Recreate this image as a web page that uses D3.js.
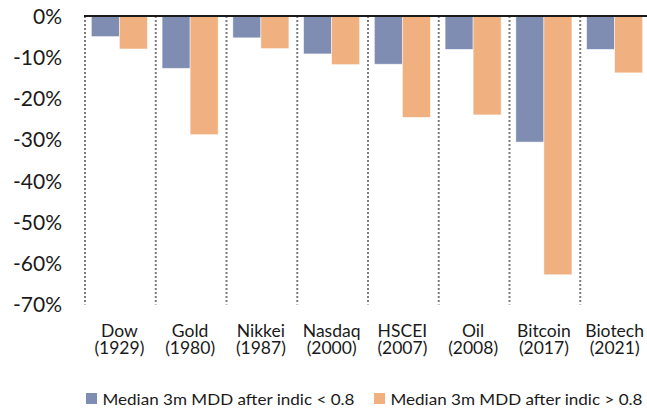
<!DOCTYPE html>
<html>
<head>
<meta charset="utf-8">
<script src="https://cdn.jsdelivr.net/npm/d3@7/dist/d3.min.js"></script>
<style>
  html, body { margin: 0; padding: 0; background: #fff; }
  svg { display: block; font-family: Lato, "Open Sans", sans-serif; }
</style>
</head>
<body>
<svg id="chart" width="647" height="410"></svg>
<script>
// Episodes (name, year) and median 3-month max drawdowns, in percent
const categories = ["Dow", "Gold", "Nikkei", "Nasdaq", "HSCEI", "Oil", "Bitcoin", "Biotech"];
const years = ["(1929)", "(1980)", "(1987)", "(2000)", "(2007)", "(2008)", "(2017)", "(2021)"];
const seriesNames = ["Median 3m MDD after indic < 0.8", "Median 3m MDD after indic > 0.8"];
const belowValues = [-5.0, -12.7, -5.3, -9.2, -11.7, -8.1, -30.6, -8.1];
const aboveValues = [-8.0, -28.8, -7.9, -11.8, -24.6, -24.0, -62.8, -13.8];
const tickValues = [0, -10, -20, -30, -40, -50, -60, -70];
const colors = ["#7F8DB2", "#F0B07F"];

const svg = d3.select("#chart");

const plotLeft = 84, plotRight = 650, plotTop = 16, plotBottom = 304.4;

const x0 = d3.scaleBand().domain(categories).range([plotLeft, plotRight]).padding(0);
const x1 = d3.scaleBand().domain(seriesNames).range([0, x0.bandwidth()])
  .paddingInner(0).paddingOuter(0.2625);
const y = d3.scaleLinear().domain([0, -70]).range([plotTop, plotBottom]);

const rows = categories.map((c, i) => ({
  cat: c,
  values: [
    { key: seriesNames[0], v: belowValues[i], color: colors[0] },
    { key: seriesNames[1], v: aboveValues[i], color: colors[1] }
  ]
}));

// Dotted separators at the left edge of each category
svg.append("g")
  .selectAll("line")
  .data(categories)
  .join("line")
  .attr("x1", d => x0(d) + 1)
  .attr("x2", d => x0(d) + 1)
  .attr("y1", y(0))
  .attr("y2", y(-70))
  .attr("stroke", "#7d7d7d")
  .attr("stroke-width", 2)
  .attr("stroke-dasharray", "2,2");

// Bars
svg.append("g")
  .selectAll("g")
  .data(rows)
  .join("g")
  .attr("transform", d => `translate(${x0(d.cat)},0)`)
  .selectAll("rect")
  .data(d => d.values)
  .join("rect")
  .attr("x", d => x1(d.key))
  .attr("width", x1.bandwidth())
  .attr("y", y(0))
  .attr("height", d => y(d.v) - y(0))
  .attr("fill", d => d.color)
  .attr("stroke", "rgba(255,255,255,0.6)")
  .attr("stroke-width", 0.8);

// Zero line
svg.append("line")
  .attr("x1", plotLeft).attr("x2", 647)
  .attr("y1", y(0)).attr("y2", y(0))
  .attr("stroke", "#1a1a1a")
  .attr("stroke-width", 2);

// Y axis tick labels
const yAxis = d3.axisLeft(y)
  .tickValues(tickValues)
  .tickSize(0)
  .tickPadding(0)
  .tickFormat(d => d + "%");
const gy = svg.append("g")
  .attr("transform", "translate(62,0)")
  .call(yAxis);
gy.select(".domain").remove();
gy.selectAll("text")
  .attr("font-family", "Lato, sans-serif")
  .attr("font-size", 21)
  .attr("fill", "#1a1a1a")
  .attr("dy", "0.35em");

// Category labels (two lines)
const labels = svg.append("g")
  .selectAll("text")
  .data(categories)
  .join("text")
  .attr("x", d => x0(d) + x0.bandwidth() / 2)
  .attr("y", 336.5)
  .attr("text-anchor", "middle")
  .attr("font-size", 17.5)
  .attr("fill", "#1a1a1a");
labels.append("tspan").text(d => d);
labels.append("tspan")
  .attr("x", d => x0(d) + x0.bandwidth() / 2)
  .attr("dy", 17.8)
  .text((d, i) => years[i]);

// Legend
const legendItems = [
  { name: seriesNames[0], color: colors[0], x: 86 },
  { name: seriesNames[1], color: colors[1], x: 374 }
];
const lg = svg.append("g")
  .selectAll("g")
  .data(legendItems)
  .join("g")
  .attr("transform", d => `translate(${d.x},0)`);
lg.append("rect")
  .attr("x", 0).attr("y", 393)
  .attr("width", 11).attr("height", 11)
  .attr("fill", d => d.color);
lg.append("text")
  .attr("x", 16.5)
  .attr("y", 405)
  .attr("font-size", 16.2)
  .attr("fill", "#1a1a1a")
  .attr("textLength", 252)
  .attr("lengthAdjust", "spacingAndGlyphs")
  .text(d => d.name);
</script>
</body>
</html>
